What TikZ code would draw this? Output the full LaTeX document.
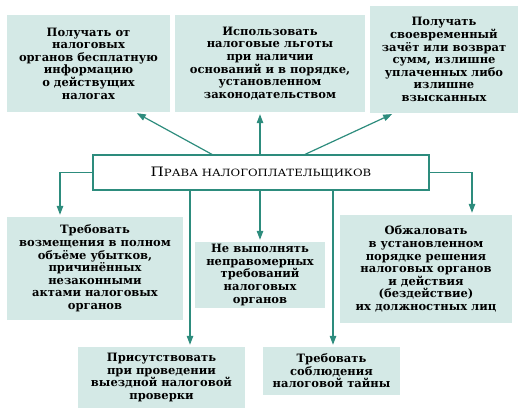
\documentclass[tikz,border=0pt]{standalone}
\usepackage{fontspec}
\setmainfont{DejaVu Serif}
\newfontfamily\titlefont[FakeStretch=1.17]{DejaVu Serif}
\usetikzlibrary{arrows.meta}
\definecolor{boxfill}{RGB}{212,233,230}
\definecolor{arrowc}{RGB}{45,140,125}
\begin{document}
\begin{tikzpicture}[x=1pt,y=-1pt,
  box/.style={fill=boxfill, inner sep=0pt, align=center,
    font=\bfseries\fontsize{11.5}{12.6}\selectfont},
  arr/.style={draw=arrowc, line width=1.2pt, -{Triangle[length=9pt,width=6.5pt]}, shorten >=2pt}]
\useasboundingbox (0,0) rectangle (524,414);

\node[box, minimum width=163pt, minimum height=97pt] (b1) at (88.5,63.5)
  {Получать от\\налоговых\\органов бесплатную\\информацию\\о действущих\\налогах};
\node[box, minimum width=190pt, minimum height=97pt] (b2) at (270,63.5)
  {Использовать\\налоговые льготы\\при наличии\\оснований и в порядке,\\установленном\\законодательством};
\node[box, minimum width=148pt, minimum height=107pt] (b3) at (444,59.5)
  {Получать\\своевременный\\зачёт или возврат\\сумм, излишне\\уплаченных либо\\излишне\\взысканных};

\node[draw=arrowc, line width=1.2pt, fill=white, minimum width=336pt, minimum height=35pt, inner sep=0pt] (c) at (261,172.5)
  {\titlefont{\fontsize{13}{15}\selectfont П}{\fontsize{10}{12}\selectfont РАВА НАЛОГОПЛАТЕЛЬЩИКОВ}};

\node[box, minimum width=176pt, minimum height=103pt] (b4) at (95,268.5)
  {Требовать\\возмещения в полном\\объёме убытков,\\причинённых\\незаконными\\актами налоговых\\органов};
\node[box, minimum width=130pt, minimum height=66pt] (b5) at (260,275)
  {Не выполнять\\неправомерных\\требований\\налоговых\\органов};
\node[box, minimum width=172pt, minimum height=108pt] (b6) at (426,269)
  {Обжаловать\\в установленном\\порядке решения\\налоговых органов\\и действия\\(бездействие)\\их должностных лиц};
\node[box, minimum width=167pt, minimum height=61pt] (b7) at (161.5,377.5)
  {Присутствовать\\при проведении\\выездной налоговой\\проверки};
\node[box, minimum width=137pt, minimum height=48pt] (b8) at (331.5,371)
  {Требовать\\соблюдения\\налоговой тайны};

\coordinate (x1a) at (212,0);
\coordinate (x1b) at (135,0);
\coordinate (x2) at (260,0);
\coordinate (x3a) at (305,0);
\coordinate (x3b) at (394,0);
\coordinate (x4) at (60,0);
\coordinate (x6) at (472,0);
\coordinate (x7) at (190,0);
\coordinate (x8) at (333,0);

\draw[arr] (c.north -| x1a) -- (b1.south -| x1b);
\draw[arr] (c.north -| x2) -- (b2.south -| x2);
\draw[arr] (c.north -| x3a) -- (b3.south -| x3b);
\draw[arr] (c.west) -| (b4.north -| x4);
\draw[arr] (c.east) -| (b6.north -| x6);
\draw[arr] (c.south -| x2) -- (b5.north -| x2);
\draw[arr] (c.south -| x7) -- (b7.north -| x7);
\draw[arr] (c.south -| x8) -- (b8.north -| x8);
\end{tikzpicture}
\end{document}
